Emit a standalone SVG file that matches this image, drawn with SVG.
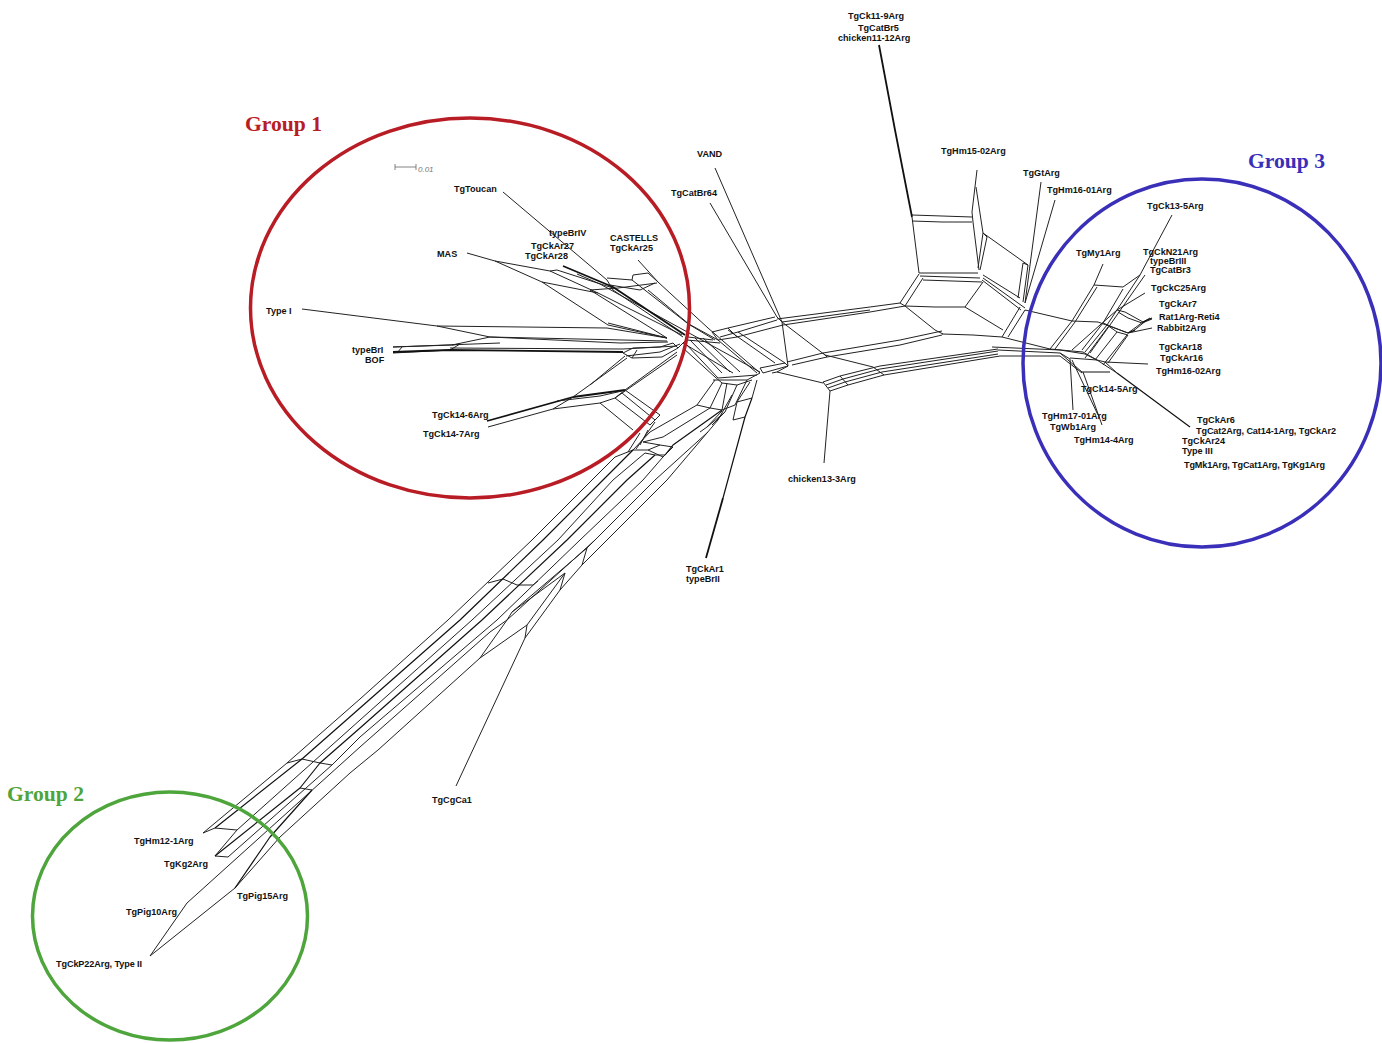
<svg xmlns="http://www.w3.org/2000/svg" width="1382" height="1043" viewBox="0 0 1382 1043">
<style>
text{font-family:"Liberation Sans",Arial,sans-serif;font-size:9.1px;font-weight:bold;fill:#111;transform:translateY(-.5px)}
.grp{font-family:"Liberation Serif","Times New Roman",serif;font-size:21.6px}
.n{fill:none;stroke:#222;stroke-width:1;stroke-linejoin:round}
.b{fill:none;stroke:#111;stroke-width:1.8;stroke-linejoin:round}
.m{fill:none;stroke:#111;stroke-width:1.2;stroke-linejoin:round}
.c{fill:none;stroke-width:3.5}
</style>
<rect width="1382" height="1043" fill="#fff"/>
<g id="connectors">
<path id="band-long" class="n" d="M203 833L287 763L360 699L448 620L532 540L592 480L615 457M237 830L360 720L472 620L558 540L613 480L645 453M228 857L332 765L360 737L497 620L580 540L643 480L663 457M187 903L360 747L490 632L507 620L595 540L655 480L708 432M150 956L187 903M150 956L235 888L280 837L350 773L378 750L480 658L527 625M480 658L507 620L512 612L565 573L527 625L525 638M525 638L560 590L565 573M512 612L587 548L582 565L560 590M582 565L607 540L667 480L718 420M587 548L595 540M203 833L215 828L237 830L215 856M228 857L215 856M488 583L503 579L517 585L533 585L538 581M287 763L302 759L320 763L332 765M300 788L312 790M456 786L525 638M615 457L633 450"/>
<path id="band-long-bold" class="m" d="M215 856L300 788L320 763L360 728L482 620L567 540L627 480L655 455M235 888L270 837L312 790M215 828L302 759L360 708L460 620L543 540L603 480L633 450"/>
<path id="group1-leaves" class="n" d="M503 192L607 280L613 290L683 337M467 253L495 261L550 271L598 293L682 335M495 261L542 282L608 325L667 338M550 271L557 270L613 288M542 282L598 293M302 309L437 326L607 328L667 338M437 326L490 337L667 341M490 337L452 345L393 347M490 337L620 343L668 342M402 347L397 353M393 347L500 343M393 353L450 350L460 344L452 345M450 348L623 349L677 346M638 260L658 282L708 328L760 373M632 280L687 323L718 340L757 373M607 278L632 280L633 275L648 273L658 282M640 290L655 283M610 285L640 290M590 290L618 288L657 283M590 290L667 338M608 323L667 338M688 337L713 340M687 340L720 343M683 343L733 373M623 353L633 348L660 347L673 343L678 348L686 340M678 348L662 357L632 358L623 353M632 358L637 350M626 356L660 352L680 344M600 284L760 372M648 290L690 325L715 340M577 274L600 284"/>
<path id="group1-bold" class="b" d="M563 266L613 287L685 335M393 352L450 350L623 352M573 397L625 390M487 421L573 397"/>
<path id="group1-lower" class="n" d="M488 427L553 409L600 403L615 398L625 390M573 397L553 409M557 401L600 396L622 391M573 397L627 358M590 385L625 356M625 390L677 352M615 398L677 355M625 390L660 415M622 393L655 420M615 398L650 425M600 403L633 430M650 425L660 415M655 422L636 449"/>
<path id="center-left" class="n" d="M685 343L718 378L757 375M683 348L715 377M690 340L722 373M695 338L730 372M703 338L740 372M715 377L722 383L737 385L752 380M713 380L747 380L760 373M712 332L728 328L775 317M720 337L738 332L777 320M718 340L737 337L783 325M712 332L718 340M728 328L737 337M738 332L785 363M728 330L775 363M715 168L782 322L788 366M710 203L777 317L782 322M782 322L825 355L873 367M760 368L785 363L788 366L763 373L760 368M772 373L777 372L823 383M787 362L823 353L900 340L942 331M792 365L827 357L900 345L942 335M823 353L827 357M777 372L788 366M777 319L870 307L900 303M782 322L870 310M783 325L870 312L905 306"/>
<path id="center-band" class="n" d="M715 380L697 405L650 432L633 450M722 383L710 408L663 437L643 442M727 383L722 410M737 385L725 412M747 380L735 405L722 410M697 405L710 408L722 410M643 442L660 445L673 447M633 450L648 450L663 457M645 453L655 455L665 455M648 450L660 445M663 457L673 447M707 427L722 411M712 425L725 412M718 420L732 395M737 402L752 398M733 420L745 417M737 402L733 420M757 380L752 398M750 382L737 402M640 433L628 452M648 430L640 445M725 412L707 427L700 432"/>
<path id="band-bold2" class="m" d="M722 410L673 445L665 455M752 398L745 417L723 498"/>
<path id="band-bold3" class="b" d="M723 498L706 558"/>
<path id="center-right" class="n" d="M823 382L840 376L880 366L998 349M826 385L843 379L880 369L998 351M828 388L845 382L882 372L998 354M830 391L848 385L884 375L1000 356M823 382L830 391M840 376L848 385M873 367L884 375M830 391L824 463M942 334L973 335L1002 337L1050 349L1083 352M998 350L1060 353L1068 360L1082 372M1000 356L1060 356L1082 373M992 347L1060 350L1085 354L1097 360L1105 362L1148 364M1070 358L1097 360M1083 352L1097 360L1117 373M1105 362L1117 373M1060 353L1070 359L1073 410M1083 372L1102 425M1072 360L1098 415"/>
<path id="top-leaves" class="n" d="M912 215L942 216L972 217M912 221L942 222L972 222M912 217L919 273M977 170L972 212L973 222L979 270M976 187L983 233L1028 265M983 233L978 268M987 237L980 270M983 233L987 237M1023 263L1028 265M1023 263L1018 298M1028 265L1023 302M1041 182L1025 303M1055 200L1025 303M983 278L1025 308M983 275L1020 298M982 280L1021 310M919 273L948 273L978 273M920 276L950 277L980 278M923 280L982 282M919 274L900 303M923 278L905 306M905 306L935 307L965 307L983 282M965 307L1003 330M905 306L935 330L943 334M900 303L905 306M1025 310L1008 337M1020 307L1002 337M1025 310L1072 321L1098 322L1128 333"/>
<path id="top-bold" class="b" d="M879 45L895 130L912 217"/>
<path id="right-cluster" class="n" d="M1103 264L1094 285L1123 287M1094 285L1072 321L1050 349M1097 287L1075 322L1055 349M1123 287L1140 275M1123 289L1103 323L1082 350M1140 275L1107 325L1085 352M1145 275L1110 325L1090 353M1172 215L1140 275M1145 293L1117 310L1100 325M1117 310L1125 312L1143 322L1150 318M1118 312L1128 318L1142 323L1152 319M1103 323L1115 328L1128 333L1152 328M1107 325L1117 332L1128 335M1128 333L1143 322M1132 332L1147 320M1117 332L1095 360M1108 327L1085 358M1100 325L1072 350M1128 335L1108 363M1127 335L1103 365"/>
<path id="right-bold" class="m" d="M1117 373L1190 427M1082 372L1110 372M1143 322L1152 318M1128 333L1135 330"/>
</g>
<g id="group-1"><ellipse class="c" cx="470" cy="308" rx="219.500" ry="190" stroke="#b81c24"/><text class="grp" x="245" y="131" style="fill:#b81c24">Group 1</text></g>
<g id="group-2"><ellipse class="c" cx="170" cy="916" rx="137.500" ry="124" stroke="#4ea53c"/><text class="grp" x="7" y="801" style="fill:#4ea53c">Group 2</text></g>
<g id="group-3"><ellipse class="c" cx="1202" cy="363" rx="179" ry="184" stroke="#3a2fb8"/><text class="grp" x="1248" y="168" style="fill:#3a2fb8">Group 3</text></g>
<g id="scale"><path d="M395 164V170M395 167H416M416 164V170" fill="none" stroke="#666" stroke-width=".8"/><text x="418" y="172" style="font-weight:normal;font-style:italic;font-size:8px;fill:#777">0.01</text></g>
<g id="n1"><text x="848" y="19">TgCk11-9Arg</text></g>
<g id="n2"><text x="858" y="31">TgCatBr5</text></g>
<g id="n3"><text x="838" y="41">chicken11-12Arg</text></g>
<g id="n4"><text x="941" y="154">TgHm15-02Arg</text></g>
<g id="n5"><text x="697" y="157">VAND</text></g>
<g id="n6"><text x="671" y="196">TgCatBr64</text></g>
<g id="n7"><text x="1023" y="176">TgGtArg</text></g>
<g id="n8"><text x="1047" y="193">TgHm16-01Arg</text></g>
<g id="n9"><text x="1147" y="209">TgCk13-5Arg</text></g>
<g id="n10"><text x="1076" y="256">TgMy1Arg</text></g>
<g id="n11"><text x="1143" y="255">TgCkN21Arg</text></g>
<g id="n12"><text x="1150" y="264">typeBrIII</text></g>
<g id="n13"><text x="1150" y="273">TgCatBr3</text></g>
<g id="n14"><text x="1151" y="291">TgCkC25Arg</text></g>
<g id="n15"><text x="1159" y="307">TgCkAr7</text></g>
<g id="n16"><text x="1159" y="320">Rat1Arg-Reti4</text></g>
<g id="n17"><text x="1157" y="331">Rabbit2Arg</text></g>
<g id="n18"><text x="1159" y="350">TgCkAr18</text></g>
<g id="n19"><text x="1160" y="361">TgCkAr16</text></g>
<g id="n20"><text x="1156" y="374">TgHm16-02Arg</text></g>
<g id="n21"><text x="1081" y="392">TgCk14-5Arg</text></g>
<g id="n22"><text x="1042" y="419">TgHm17-01Arg</text></g>
<g id="n23"><text x="1050" y="430">TgWb1Arg</text></g>
<g id="n24"><text x="1074" y="443">TgHm14-4Arg</text></g>
<g id="n25"><text x="1197" y="423">TgCkAr6</text></g>
<g id="n26"><text x="1196" y="434" textLength="140">TgCat2Arg, Cat14-1Arg, TgCkAr2</text></g>
<g id="n27"><text x="1182" y="444">TgCkAr24</text></g>
<g id="n28"><text x="1182" y="454">Type III</text></g>
<g id="n29"><text x="1184" y="468" textLength="141">TgMk1Arg, TgCat1Arg, TgKg1Arg</text></g>
<g id="n30"><text x="788" y="482">chicken13-3Arg</text></g>
<g id="n31"><text x="686" y="572">TgCkAr1</text></g>
<g id="n32"><text x="686" y="582">typeBrII</text></g>
<g id="n33"><text x="432" y="803">TgCgCa1</text></g>
<g id="n34"><text x="454" y="192">TgToucan</text></g>
<g id="n35"><text x="549" y="236">typeBrIV</text></g>
<g id="n36"><text x="531" y="249">TgCkAr27</text></g>
<g id="n37"><text x="525" y="259">TgCkAr28</text></g>
<g id="n38"><text x="610" y="241">CASTELLS</text></g>
<g id="n39"><text x="610" y="251">TgCkAr25</text></g>
<g id="n40"><text x="437" y="257">MAS</text></g>
<g id="n41"><text x="266" y="314">Type I</text></g>
<g id="n42"><text x="352" y="353">typeBrI</text></g>
<g id="n43"><text x="365" y="363">BOF</text></g>
<g id="n44"><text x="432" y="418">TgCk14-6Arg</text></g>
<g id="n45"><text x="423" y="437">TgCk14-7Arg</text></g>
<g id="n46"><text x="134" y="844">TgHm12-1Arg</text></g>
<g id="n47"><text x="164" y="867">TgKg2Arg</text></g>
<g id="n48"><text x="126" y="915">TgPig10Arg</text></g>
<g id="n49"><text x="237" y="899">TgPig15Arg</text></g>
<g id="n50"><text x="56" y="967" textLength="86">TgCkP22Arg, Type II</text></g>
</svg>
